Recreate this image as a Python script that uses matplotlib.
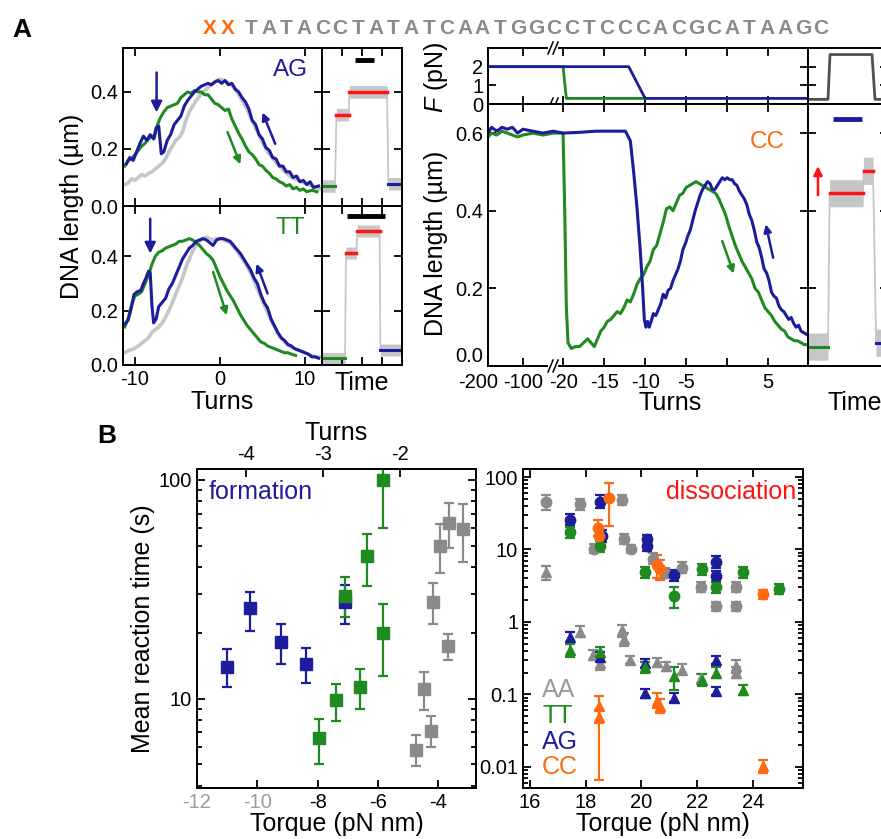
import numpy as np
import matplotlib
matplotlib.use("Agg")
import matplotlib.pyplot as plt
from matplotlib.ticker import FixedLocator, NullFormatter, LogLocator
from matplotlib.transforms import ScaledTranslation

plt.rcParams['font.family'] = 'Liberation Sans'
plt.rcParams['mathtext.fontset'] = 'custom'
plt.rcParams['mathtext.it'] = 'Liberation Sans:italic'
plt.rcParams['mathtext.rm'] = 'Liberation Sans'
plt.rcParams['axes.linewidth'] = 1.4
plt.rcParams['axes.unicode_minus'] = False

NAVY = '#1c1c9c'
GREEN = '#1f8a1f'
GRAY = '#8a8a8a'
LIGHT = '#c6c6c6'
ORANGE = '#ff6a10'
RED = '#ff1414'

# ---------------- panel A, left: AG and TT traces ----------------
ag_blue_t = [-11.0, -10.6, -10.2, -9.8, -9.4, -9.0, -8.6, -8.2, -7.8, -7.5, -7.2, -6.9, -6.6, -6.2,
             -5.8, -5.4, -5.0, -4.6, -4.2, -3.8, -3.4, -3.0, -2.6, -2.2, -1.8, -1.4, -1.0, -0.6,
             -0.2, 0.2, 0.6, 1.0, 1.4, 1.8, 2.2, 2.6, 3.0, 3.4, 3.8, 4.2, 4.6, 5.0, 5.4, 5.8, 6.2,
             6.6, 7.0, 7.4, 7.8, 8.2, 8.6, 9.0, 9.4, 9.8, 10.2, 10.6, 11.0, 11.6]
ag_blue_v = [0.148, 0.17, 0.16, 0.19, 0.22, 0.245, 0.23, 0.25, 0.235, 0.275, 0.28, 0.183, 0.19, 0.23,
             0.25, 0.285, 0.30, 0.315, 0.35, 0.37, 0.385, 0.40, 0.41, 0.42, 0.425, 0.43, 0.425, 0.435,
             0.44, 0.43, 0.44, 0.425, 0.43, 0.41, 0.40, 0.38, 0.365, 0.34, 0.30, 0.285, 0.25, 0.235,
             0.205, 0.195, 0.17, 0.165, 0.14, 0.14, 0.12, 0.12, 0.10, 0.105, 0.085, 0.09, 0.075,
             0.085, 0.065, 0.07]
ag_green_t = [-11.2, -10.8, -10.4, -10.0, -9.6, -9.2, -8.8, -8.4, -8.0, -7.7, -7.4, -7.0, -6.6, -6.2,
              -5.8, -5.4, -5.0, -4.6, -4.2, -3.8, -3.4, -3.0, -2.6, -2.2, -1.8, -1.4, -1.0, -0.6,
              -0.2, 0.2, 0.6, 1.0, 1.4, 1.8, 2.2, 2.6, 3.0, 3.4, 3.8, 4.2, 4.6, 5.0, 5.4, 5.8, 6.2,
              6.6, 7.0, 7.4, 7.8, 8.2, 8.6, 9.0, 9.4, 9.8, 10.2, 10.8, 11.4]
ag_green_v = [0.14, 0.16, 0.165, 0.18, 0.195, 0.21, 0.22, 0.235, 0.245, 0.24, 0.28, 0.31, 0.33, 0.345,
              0.35, 0.355, 0.36, 0.38, 0.39, 0.40, 0.395, 0.405, 0.40, 0.40, 0.39, 0.39, 0.375, 0.36,
              0.355, 0.345, 0.335, 0.34, 0.305, 0.28, 0.255, 0.235, 0.21, 0.19, 0.18, 0.165, 0.145,
              0.14, 0.125, 0.115, 0.10, 0.095, 0.085, 0.08, 0.07, 0.075, 0.06, 0.065, 0.055, 0.06,
              0.05, 0.055, 0.05]
ag_gray_t = [-11.2, -10.8, -10.4, -10.0, -9.6, -9.2, -8.8, -8.4, -8.0, -7.6, -7.2, -6.8, -6.4, -6.0,
             -5.6, -5.2, -4.8, -4.4, -4.0, -3.6, -3.2, -2.8, -2.4, -2.0, -1.6, -1.2, -0.8, -0.4, 0.0,
             0.4, 0.8, 1.2, 1.6, 2.0, 2.4, 2.8, 3.2, 3.6, 4.0, 4.4, 4.8, 5.2, 5.6, 6.0, 6.4, 6.8,
             7.2, 7.6, 8.0, 8.4, 8.8, 9.2, 9.6, 10.0, 10.4, 10.8, 11.2, 11.8]
ag_gray_v = [0.075, 0.08, 0.095, 0.09, 0.10, 0.11, 0.105, 0.115, 0.12, 0.13, 0.14, 0.15, 0.165, 0.19,
             0.21, 0.23, 0.24, 0.26, 0.30, 0.33, 0.35, 0.37, 0.385, 0.40, 0.41, 0.42, 0.43, 0.44,
             0.445, 0.44, 0.435, 0.43, 0.415, 0.40, 0.38, 0.36, 0.34, 0.31, 0.285, 0.26, 0.235,
             0.21, 0.19, 0.175, 0.16, 0.145, 0.135, 0.12, 0.11, 0.10, 0.095, 0.09, 0.085, 0.08,
             0.075, 0.07, 0.065, 0.06]

tt_blue_t = [-11.2, -10.8, -10.5, -10.1, -9.7, -9.3, -9.0, -8.7, -8.4, -8.2, -8.0, -7.8, -7.5, -7.2,
             -6.8, -6.4, -6.0, -5.6, -5.2, -4.8, -4.4, -4.0, -3.6, -3.2, -2.8, -2.4, -2.0, -1.6,
             -1.2, -0.8, -0.4, 0.0, 0.4, 0.8, 1.2, 1.6, 2.0, 2.4, 2.8, 3.2, 3.6, 4.0, 4.4, 4.8, 5.2,
             5.6, 6.0, 6.4, 6.8, 7.2, 7.6, 8.0, 8.4, 8.8, 9.2, 9.6, 10.0, 10.4, 10.8, 11.2, 11.6]
tt_blue_v = [0.15, 0.165, 0.20, 0.26, 0.27, 0.275, 0.30, 0.32, 0.345, 0.34, 0.22, 0.155, 0.17, 0.215,
             0.23, 0.245, 0.28, 0.30, 0.33, 0.36, 0.39, 0.41, 0.43, 0.44, 0.455, 0.46, 0.465, 0.46,
             0.45, 0.44, 0.46, 0.465, 0.465, 0.46, 0.455, 0.44, 0.425, 0.41, 0.39, 0.37, 0.35, 0.32,
             0.30, 0.26, 0.23, 0.21, 0.17, 0.145, 0.12, 0.10, 0.09, 0.075, 0.07, 0.06, 0.055, 0.05,
             0.045, 0.04, 0.03, 0.03, 0.025]
tt_green_t = [-11.2, -10.8, -10.4, -10.0, -9.6, -9.2, -8.8, -8.4, -8.0, -7.6, -7.2, -6.8, -6.4, -6.0,
              -5.6, -5.2, -4.8, -4.4, -4.0, -3.6, -3.2, -2.8, -2.4, -2.0, -1.6, -1.2, -0.8, -0.4,
              0.0, 0.4, 0.8, 1.2, 1.6, 2.0, 2.4, 2.8, 3.2, 3.6, 4.0, 4.4, 4.8, 5.2, 5.6, 6.0, 6.4,
              6.8, 7.2, 7.6, 8.0, 8.4, 8.9]
tt_green_v = [0.14, 0.17, 0.22, 0.255, 0.26, 0.27, 0.30, 0.33, 0.37, 0.40, 0.415, 0.42, 0.43, 0.435,
              0.44, 0.445, 0.455, 0.455, 0.46, 0.465, 0.46, 0.45, 0.44, 0.425, 0.41, 0.40, 0.385,
              0.355, 0.325, 0.30, 0.275, 0.255, 0.235, 0.21, 0.185, 0.165, 0.145, 0.13, 0.115, 0.10,
              0.085, 0.08, 0.07, 0.065, 0.06, 0.055, 0.05, 0.045, 0.045, 0.04, 0.035]
tt_gray_t = [-11.8, -11.2, -10.6, -10.1, -9.6, -9.2, -8.8, -8.4, -8.0, -7.6, -7.2, -6.8, -6.4, -6.0,
             -5.6, -5.2, -4.8, -4.4, -4.0, -3.6, -3.2, -2.8, -2.4, -2.0, -1.6, -1.2, -0.8, -0.4, 0.0,
             0.4, 0.8, 1.2, 1.6, 2.0, 2.4, 2.8, 3.2, 3.6, 4.0, 4.4, 4.8, 5.2, 5.6, 6.0, 6.4, 6.8,
             7.2, 7.6, 8.0, 8.4, 8.8, 9.2, 9.6, 10.0, 10.4, 10.8, 11.2, 11.8]
tt_gray_v = [0.04, 0.045, 0.055, 0.06, 0.07, 0.08, 0.09, 0.10, 0.12, 0.13, 0.14, 0.155, 0.175, 0.20,
             0.23, 0.26, 0.29, 0.32, 0.36, 0.39, 0.42, 0.44, 0.455, 0.465, 0.47, 0.465, 0.46, 0.465,
             0.465, 0.46, 0.455, 0.45, 0.435, 0.42, 0.40, 0.385, 0.36, 0.34, 0.31, 0.28, 0.25, 0.22,
             0.195, 0.165, 0.14, 0.115, 0.10, 0.085, 0.075, 0.065, 0.06, 0.055, 0.05, 0.045, 0.04,
             0.035, 0.03, 0.03]

# time traces: green start, red plateau(s), blue end
ag_time_t = [0.0, 0.65, 0.72, 1.33, 1.37, 3.25, 3.32, 4.0]
ag_time_v = [0.07, 0.07, 0.32, 0.32, 0.40, 0.40, 0.078, 0.078]
ag_bar_t = [1.63, 2.58]
ag_bar_v = 0.512
tt_time_t = [0.0, 1.15, 1.2, 1.72, 1.76, 2.88, 2.92, 4.0]
tt_time_v = [0.024, 0.024, 0.412, 0.412, 0.493, 0.493, 0.055, 0.055]
tt_bar_t = [1.25, 3.17]
tt_bar_v = 0.548

# ---------------- panel A, right: CC trace with broken turns axis ----------------
cc_blue_t = [-200, -190, -175, -160, -145, -130, -115, -100, -80, -60, -40, -20, -18, -16, -14, -12.4,
             -11.8, -11.4, -11.0, -10.6, -10.3, -10.1, -9.9, -9.7, -9.5, -9.2, -9.0, -8.7, -8.4, -8.1,
             -7.8, -7.5, -7.2, -6.9, -6.6, -6.3, -6.0, -5.7, -5.4, -5.1, -4.8, -4.5, -4.2, -3.9, -3.6,
             -3.3, -3.0, -2.7, -2.4, -2.1, -1.8, -1.5, -1.2, -0.9, -0.6, -0.3, 0.0, 0.3, 0.6, 0.9,
             1.2, 1.5, 1.8, 2.1, 2.4, 2.7, 3.0, 3.3, 3.6, 3.9, 4.2, 4.5, 4.8, 5.1, 5.4, 5.7, 6.0,
             6.3, 6.6, 6.9, 7.2, 7.5, 7.8, 8.1, 8.4, 8.7, 9.0, 9.4, 9.8]
cc_blue_v = [0.60, 0.615, 0.605, 0.615, 0.61, 0.615, 0.60, 0.61, 0.605, 0.60, 0.605, 0.60, 0.602, 0.605,
             0.605, 0.605, 0.58, 0.50, 0.41, 0.30, 0.20, 0.12, 0.10, 0.115, 0.10, 0.12, 0.135, 0.13,
             0.145, 0.16, 0.185, 0.175, 0.195, 0.20, 0.22, 0.235, 0.25, 0.27, 0.30, 0.315, 0.335,
             0.35, 0.375, 0.40, 0.42, 0.44, 0.455, 0.465, 0.475, 0.47, 0.455, 0.455, 0.465, 0.475,
             0.485, 0.48, 0.485, 0.48, 0.48, 0.47, 0.465, 0.45, 0.44, 0.43, 0.415, 0.39, 0.375, 0.35,
             0.32, 0.305, 0.28, 0.25, 0.24, 0.22, 0.19, 0.18, 0.175, 0.155, 0.145, 0.14, 0.13, 0.12,
             0.125, 0.11, 0.10, 0.105, 0.09, 0.085, 0.08]
cc_green_t = [-200, -190, -175, -160, -145, -130, -115, -100, -80, -60, -40, -20, -19.8, -19.6, -19.4,
              -19.0, -18.5, -18.0, -17.5, -17.0, -16.6, -16.2, -15.8, -15.4, -15.0, -14.6, -14.2,
              -13.8, -13.4, -13.0, -12.6, -12.2, -11.8, -11.4, -11.0, -10.6, -10.2, -9.8, -9.4, -9.0,
              -8.6, -8.2, -7.8, -7.4, -7.0, -6.6, -6.2, -5.8, -5.4, -5.0, -4.6, -4.2, -3.8, -3.4,
              -3.0, -2.6, -2.2, -1.8, -1.4, -1.0, -0.6, -0.2, 0.2, 0.6, 1.0, 1.4, 1.8, 2.2, 2.6, 3.0,
              3.4, 3.8, 4.2, 4.6, 5.0, 5.4, 5.8, 6.2, 6.6, 7.0, 7.4, 7.8, 8.2, 8.6, 9.0, 9.4, 9.8]
cc_green_v = [0.59, 0.60, 0.595, 0.605, 0.60, 0.595, 0.59, 0.595, 0.60, 0.595, 0.60, 0.60, 0.40, 0.15,
              0.06, 0.045, 0.05, 0.05, 0.06, 0.07, 0.06, 0.05, 0.07, 0.09, 0.10, 0.115, 0.12, 0.13,
              0.14, 0.135, 0.15, 0.17, 0.165, 0.185, 0.21, 0.225, 0.235, 0.255, 0.27, 0.30, 0.31,
              0.34, 0.37, 0.405, 0.41, 0.40, 0.42, 0.44, 0.445, 0.46, 0.465, 0.47, 0.475, 0.47,
              0.465, 0.46, 0.455, 0.45, 0.445, 0.43, 0.41, 0.39, 0.36, 0.335, 0.31, 0.29, 0.27,
              0.255, 0.24, 0.225, 0.20, 0.19, 0.17, 0.15, 0.14, 0.13, 0.115, 0.105, 0.095, 0.09,
              0.075, 0.07, 0.065, 0.065, 0.06, 0.055, 0.055]
force_blue_t = [-200, -12.0, -10.0, 9.8]
force_blue_f = [2.0, 2.0, 0.3, 0.3]
force_green_t = [-200, -20, -19.6, -10.0]
force_green_f = [2.0, 2.0, 0.3, 0.3]
force_time_t = [0.0, 1.0, 1.1, 3.2, 3.35, 4.0]
force_time_f = [0.25, 0.25, 2.65, 2.65, 0.25, 0.25]
cc_time_t = [0.0, 1.0, 1.08, 2.75, 2.78, 3.25, 3.4, 4.0]
cc_time_v = [0.05, 0.05, 0.445, 0.445, 0.503, 0.503, 0.06, 0.06]
cc_bar_t = [1.25, 2.7]
cc_bar_v = 0.637

# broken axis knots (turns -> plotting coordinate)
brk_t = [-1000, -200, -100, -20, 100]
brk_u = [-63.15, -29.15, -24.9, -20, 100]

# ---------------- panel B: formation ----------------
ag_form_x = [-11.0, -10.25, -9.2, -8.4, -7.1]
ag_form_y = [14.0, 25.8, 18.2, 14.4, 27.5]
ag_form_lo = [11.3, 20.4, 14.4, 11.8, 22.0]
ag_form_hi = [16.9, 30.8, 22.0, 17.1, 33.0]
tt_form_x = [-7.94, -7.38, -7.1, -6.6, -6.35, -5.83, -5.83]
tt_form_y = [6.6, 9.8, 29.5, 11.3, 45.0, 20.0, 100.0]
tt_form_lo = [5.0, 7.9, 23.5, 9.0, 32.8, 12.7, 60.0]
tt_form_hi = [8.1, 11.7, 36.0, 13.7, 56.6, 27.0, 150.0]
aa_form_x = [-4.74, -4.47, -4.24, -4.18, -3.95, -3.68, -3.65, -3.19]
aa_form_y = [5.8, 11.0, 7.1, 27.7, 50.0, 17.3, 63.6, 59.8]
aa_form_lo = [4.9, 8.9, 6.0, 21.8, 37.6, 15.0, 49.0, 42.3]
aa_form_hi = [6.8, 13.2, 8.3, 33.8, 63.0, 19.8, 78.5, 77.7]

# ---------------- panel B: dissociation (circles slow, triangles fast) ----------------
aa_circ_x = [16.58, 17.8, 19.32, 18.31, 19.38, 19.63, 20.4, 20.86, 21.46, 22.15, 22.69, 23.41, 23.41]
aa_circ_y = [45.2, 42.9, 48.7, 10.3, 14.1, 10.3, 7.5, 4.7, 5.6, 3.04, 1.64, 3.04, 1.64]
aa_circ_lo = [34.7, 35.0, 41.0, 8.8, 12.0, 9.0, 6.3, 4.0, 4.7, 2.6, 1.4, 2.6, 1.4]
aa_circ_hi = [55.9, 50.0, 56.0, 12.0, 16.5, 11.5, 8.8, 5.5, 6.8, 3.5, 1.9, 3.6, 1.9]
ag_circ_x = [17.44, 18.52, 18.58, 20.2, 20.2, 21.18, 22.69, 22.69]
ag_circ_y = [25.8, 45.0, 15.5, 13.9, 11.3, 4.4, 6.7, 4.3]
ag_circ_lo = [21.5, 37.0, 12.5, 11.5, 9.5, 3.7, 5.6, 3.6]
ag_circ_hi = [31.0, 56.0, 18.5, 16.0, 13.3, 5.2, 8.0, 5.1]
tt_circ_x = [17.44, 18.52, 20.14, 21.18, 22.17, 22.69, 23.65, 24.93]
tt_circ_y = [17.4, 11.1, 4.9, 2.26, 5.3, 3.04, 4.9, 2.82]
tt_circ_lo = [14.5, 9.2, 4.1, 1.55, 4.4, 2.5, 4.1, 2.4]
tt_circ_hi = [20.5, 13.2, 5.8, 3.05, 6.3, 3.7, 5.8, 3.3]
cc_circ_x = [18.84, 18.43, 18.48, 20.56, 20.68, 24.36]
cc_circ_y = [51.9, 19.8, 15.2, 6.05, 5.3, 2.41]
cc_circ_lo = [20.9, 15.5, 10.6, 4.0, 3.75, 2.05]
cc_circ_hi = [82.6, 25.8, 20.0, 8.3, 7.1, 2.8]

aa_tri_x = [16.58, 17.8, 18.28, 18.52, 19.30, 19.38, 19.6, 20.56, 20.88, 21.46, 22.15, 23.41, 23.41]
aa_tri_y = [4.9, 0.73, 0.35, 0.27, 0.77, 0.59, 0.296, 0.28, 0.245, 0.22, 0.166, 0.245, 0.2]
aa_tri_lo = [3.75, 0.62, 0.3, 0.22, 0.62, 0.47, 0.26, 0.24, 0.21, 0.19, 0.14, 0.2, 0.17]
aa_tri_hi = [5.9, 0.87, 0.41, 0.32, 0.9, 0.7, 0.34, 0.32, 0.28, 0.26, 0.19, 0.3, 0.235]
ag_tri_x = [17.44, 18.52, 20.14, 20.14, 21.18, 22.69, 22.69]
ag_tri_y = [0.62, 0.33, 0.27, 0.103, 0.090, 0.296, 0.112]
ag_tri_lo = [0.52, 0.29, 0.23, 0.09, 0.078, 0.26, 0.097]
ag_tri_hi = [0.73, 0.39, 0.31, 0.12, 0.104, 0.34, 0.128]
tt_tri_x = [17.44, 18.52, 20.14, 21.18, 22.17, 22.69, 23.65]
tt_tri_y = [0.41, 0.38, 0.24, 0.178, 0.157, 0.2, 0.114]
tt_tri_lo = [0.33, 0.32, 0.2, 0.115, 0.13, 0.17, 0.098]
tt_tri_hi = [0.5, 0.45, 0.28, 0.24, 0.19, 0.24, 0.135]
cc_tri_x = [18.46, 18.48, 20.56, 20.68, 24.36]
cc_tri_y = [0.069, 0.049, 0.081, 0.07, 0.0102]
cc_tri_lo = [0.0066, 0.04, 0.065, 0.055, 0.0081]
cc_tri_hi = [0.095, 0.06, 0.104, 0.085, 0.0123]

sequence = "TATACCTATATCAATGGCCTCCCACGCATAAGC"

# ================================================================
W, H = 881, 839
fig = plt.figure(figsize=(W / 100, H / 100), dpi=100)


def box(l, t, r, b):
    return fig.add_axes([l / W, 1 - b / H, (r - l) / W, (b - t) / H])


def style(ax, size=14.5, top=True):
    ax.tick_params(which='both', direction='in', top=top, right=True, labelsize=size, width=1.3)
    ax.tick_params(which='major', length=6)
    ax.tick_params(which='minor', length=3.5)


def time_panel(ax, t, v, half, ylim):
    t = np.array(t)
    v = np.array(v)
    ax.fill_between(t, v - half, v + half, color=LIGHT, lw=0)
    ax.plot(t, v, color=LIGHT, lw=1.2)
    ax.plot(t[0:2], v[0:2], color=GREEN, lw=2.2)
    ax.plot(t[2:4], v[2:4], color=RED, lw=2.5)
    ax.plot(t[4:6], v[4:6], color=RED, lw=2.5)
    ax.plot(t[6:8], v[6:8], color=NAVY, lw=2.2)
    ax.set_xlim(0, 4)
    ax.set_ylim(*ylim)
    ax.set_xticks([1, 2, 3])
    ax.set_yticks([0.2, 0.4] if ylim[1] < 0.6 else [0.2, 0.4, 0.6])
    ax.set_xticklabels([])
    ax.set_yticklabels([])
    style(ax)


# ---- A left ----
turn_panels = [
    (48, 206, (0, 0.554), ag_gray_t, ag_gray_v, ag_green_t, ag_green_v, ag_blue_t, ag_blue_v, 'AG', NAVY,
     ag_time_t, ag_time_v, ag_bar_t, ag_bar_v),
    (206, 365, (0, 0.585), tt_gray_t, tt_gray_v, tt_green_t, tt_green_v, tt_blue_t, tt_blue_v, 'TT', GREEN,
     tt_time_t, tt_time_v, tt_bar_t, tt_bar_v),
]
arrows_left = [
    [((-7.45, 0.468), (-7.45, 0.328), NAVY), ((6.5, 0.218), (5.0, 0.328), NAVY), ((0.9, 0.259), (2.4, 0.146), GREEN)],
    [((-8.2, 0.538), (-8.2, 0.41), NAVY), ((5.6, 0.263), (4.3, 0.373), NAVY), ((-0.8, 0.342), (0.8, 0.183), GREEN)],
]
for i, (top, bot, ylim, gt, gv, grt, grv, bt, bv, name, ncol, tt_, tv_, bar_t, bar_v) in enumerate(turn_panels):
    ax = box(123, top, 322, bot)
    ax.plot(gt, gv, color=LIGHT, lw=2.6)
    ax.plot(grt, grv, color=GREEN, lw=2.2)
    ax.plot(bt, bv, color=NAVY, lw=2.2)
    ax.set_xlim(-11.4, 12)
    ax.set_ylim(*ylim)
    ax.set_xticks([-10, 0, 10])
    ax.set_yticks([0.0, 0.2, 0.4])
    ax.set_yticklabels(['0.0', '0.2', '0.4'])
    style(ax)
    if i == 0:
        ax.set_xticklabels([])
    else:
        ax.set_xlabel('Turns', fontsize=18, labelpad=1)
    ax.text(0.84, 0.86 if i == 0 else 0.862, name, color=ncol, fontsize=17.5,
            transform=ax.transAxes, ha='center', va='center')
    for tail, head, col in arrows_left[i]:
        big = tail[0] == head[0]
        ax.annotate('', xy=head, xytext=tail,
                    arrowprops=dict(arrowstyle='-|>', color=col, lw=1.8,
                                    mutation_scale=16 if big else 11, shrinkA=0, shrinkB=0))
    axt = box(322, top, 402, bot)
    time_panel(axt, tt_, tv_, 0.022, ylim)
    axt.plot(bar_t, [bar_v, bar_v], color='black', lw=3.5, solid_capstyle='butt')
    if i == 1:
        axt.set_xlabel('Time', fontsize=18, labelpad=1)

fig.text(72 / W, 1 - 206 / H, 'DNA length (µm)', rotation=90, fontsize=18, ha='center', va='center')

# ---- A right ----
def fwd(t):
    return np.interp(t, brk_t, brk_u)


def inv(u):
    return np.interp(u, brk_u, brk_t)


def break_mark(ax, xf, yf):
    # white gap in the spine plus two slanted strokes, in axes fraction
    bb = ax.get_window_extent()
    sx = 1.0 / bb.width
    sy = 1.0 / bb.height
    ax.plot([xf - 5 * sx, xf + 5 * sx], [yf, yf], color='white', lw=3, transform=ax.transAxes,
            clip_on=False, zorder=5, solid_capstyle='butt')
    for dx in (-2.5, 2.5):
        ax.plot([xf + (dx - 2.5) * sx, xf + (dx + 2.5) * sx], [yf - 6 * sy, yf + 6 * sy], color='black',
                lw=1.1, transform=ax.transAxes, clip_on=False, zorder=6)


axf = box(488, 48, 808, 104)
axc = box(488, 104, 808, 366)
for a in (axf, axc):
    a.set_xscale('function', functions=(fwd, inv))
    a.set_xlim(-200, 9.85)
    a.set_xticks([-200, -100, -20, -15, -10, -5, 0, 5])
    a.xaxis.set_minor_locator(FixedLocator([]))
    style(a)
axf.plot(force_green_t, force_green_f, color=GREEN, lw=2)
axf.plot(force_blue_t, force_blue_f, color=NAVY, lw=2)
axf.set_ylim(0, 3.0)
axf.set_yticks([0, 1, 2])
axf.set_xticklabels([])

axc.plot(cc_green_t, cc_green_v, color=GREEN, lw=2.2)
axc.plot(cc_blue_t, cc_blue_v, color=NAVY, lw=2.2)
axc.set_ylim(0, 0.675)
axc.set_yticks([0.0, 0.2, 0.4, 0.6])
axc.set_yticklabels(['0.0', '0.2', '0.4', '0.6'])
axc.get_yticklabels()[0].set_va('bottom')
axc.set_xticklabels(['-200', '-100', '-20', '-15', '-10', '-5', '', '5'])
axc.tick_params(axis='x', pad=5)
first = axc.get_xticklabels()[0]
first.set_ha('right')
first.set_transform(first.get_transform() + ScaledTranslation(7.5 / 72, 0, fig.dpi_scale_trans))
axc.set_xlabel('Turns', fontsize=18, labelpad=1)
axc.xaxis.set_label_coords(0.57, -0.095)
axc.text(0.872, 0.855, 'CC', color=ORANGE, fontsize=17.5, transform=axc.transAxes, ha='center', va='center')
for tail, head, col in [((5.6, 0.279), (4.7, 0.365), NAVY), ((-0.6, 0.322), (0.8, 0.238), GREEN)]:
    axc.annotate('', xy=head, xytext=tail,
                 arrowprops=dict(arrowstyle='-|>', color=col, lw=1.8, mutation_scale=11, shrinkA=0, shrinkB=0))
brk_frac = (fwd(-40) - fwd(-200)) / (fwd(9.85) - fwd(-200))
break_mark(axf, brk_frac, 1.0)
break_mark(axf, brk_frac, 0.0)
break_mark(axc, brk_frac, 0.0)

axft = box(808, 48, 888, 104)
axft.plot(force_time_t, force_time_f, color='#505050', lw=2)
axft.set_xlim(0, 4)
axft.set_ylim(0, 3.0)
axft.set_xticks([])
axft.set_yticks([1, 2])
axft.set_yticklabels([])
style(axft)

axct = box(808, 104, 888, 366)
time_panel(axct, cc_time_t, cc_time_v, 0.035, (0, 0.675))
axct.plot(cc_bar_t, [cc_bar_v, cc_bar_v], color=NAVY, lw=3.5, solid_capstyle='butt')
axct.set_xticks([])
axct.set_xlabel('Time', fontsize=18, labelpad=12)
axct.xaxis.set_label_coords(0.59, -0.095)
axct.annotate('', xy=(0.5, 0.515), xytext=(0.5, 0.44),
              arrowprops=dict(arrowstyle='-|>', color=RED, lw=1.8, mutation_scale=13, shrinkA=0, shrinkB=0))

fig.text(436 / W, 1 - 243 / H, 'DNA length (µm)', rotation=90, fontsize=18, ha='center', va='center')
fig.text(436 / W, 1 - 77 / H, '$F$ (pN)', rotation=90, fontsize=18, ha='center', va='center')

# ---- sequence header ----
for k, ch in enumerate('XX'):
    fig.text((210 + 17.5 * k) / W, 1 - 28 / H, ch, color=ORANGE, fontsize=15, weight='bold', ha='center', va='center')
for k, ch in enumerate(sequence):
    fig.text((251 + 17.8 * k) / W, 1 - 28 / H, ch, color=GRAY, fontsize=15, weight='bold', ha='center', va='center')
fig.text(12 / W, 1 - 30 / H, 'A', fontsize=19, weight='bold', va='center')
fig.text(97 / W, 1 - 436 / H, 'B', fontsize=19, weight='bold', va='center')

# ---- B left: formation ----
def errs(ax, x, y, lo, hi, marker, col, ms):
    y = np.array(y)
    ax.errorbar(x, y, yerr=[y - np.array(lo), np.array(hi) - y], fmt=marker, color=col, ms=ms,
                elinewidth=1.6, capsize=3.5, capthick=1.6, mec=col, clip_on=True)


axb = box(197, 469, 476, 788)
axb.set_yscale('log')
errs(axb, ag_form_x, ag_form_y, ag_form_lo, ag_form_hi, 's', NAVY, 8)
errs(axb, tt_form_x, tt_form_y, tt_form_lo, tt_form_hi, 's', GREEN, 8)
errs(axb, aa_form_x, aa_form_y, aa_form_lo, aa_form_hi, 's', GRAY, 8)
axb.set_xlim(-12, -2.75)
axb.set_ylim(3.9, 112)
axb.set_xticks([-12, -10, -8, -6, -4])
axb.set_yticks([10, 100])
axb.set_yticklabels(['10', '100'])
axb.yaxis.set_minor_formatter(NullFormatter())
style(axb, top=False)
for lab in axb.get_xticklabels()[:2]:
    lab.set_color('#9a9a9a')
axb.set_xlabel('Torque (pN nm)', fontsize=18, labelpad=0)
axb.set_ylabel('Mean reaction time (s)', fontsize=18)
axb.yaxis.set_label_coords(-0.15, 0.5)
axb.text(0.043, 0.928, 'formation', color=NAVY, fontsize=18, transform=axb.transAxes, va='center')
sec = axb.secondary_xaxis('top', functions=(lambda q: (q + 0.2) / 2.54, lambda n: 2.54 * n - 0.2))
sec.set_xticks([-4, -3, -2])
sec.tick_params(direction='in', length=6, width=1.3, labelsize=14.5)
sec.set_xlabel('Turns', fontsize=18, labelpad=4)

# ---- B right: dissociation ----
axd = box(523, 469, 803, 788)
axd.set_yscale('log')
errs(axd, aa_circ_x, aa_circ_y, aa_circ_lo, aa_circ_hi, 'o', GRAY, 7.5)
errs(axd, aa_tri_x, aa_tri_y, aa_tri_lo, aa_tri_hi, '^', GRAY, 7.5)
errs(axd, ag_circ_x, ag_circ_y, ag_circ_lo, ag_circ_hi, 'o', NAVY, 7.5)
errs(axd, ag_tri_x, ag_tri_y, ag_tri_lo, ag_tri_hi, '^', NAVY, 7.5)
errs(axd, tt_circ_x, tt_circ_y, tt_circ_lo, tt_circ_hi, 'o', GREEN, 7.5)
errs(axd, tt_tri_x, tt_tri_y, tt_tri_lo, tt_tri_hi, '^', GREEN, 7.5)
errs(axd, cc_circ_x, cc_circ_y, cc_circ_lo, cc_circ_hi, 'o', ORANGE, 7.5)
errs(axd, cc_tri_x, cc_tri_y, cc_tri_lo, cc_tri_hi, '^', ORANGE, 7.5)
axd.set_xlim(15.75, 25.8)
axd.set_ylim(0.0051, 129)
axd.set_xticks([16, 18, 20, 22, 24])
axd.set_yticks([0.01, 0.1, 1, 10, 100])
axd.set_yticklabels(['0.01', '0.1', '1', '10', '100'])
axd.yaxis.set_minor_locator(LogLocator(base=10, subs=np.arange(2, 10)))
axd.yaxis.set_minor_formatter(NullFormatter())
style(axd)
axd.set_xlabel('Torque (pN nm)', fontsize=18, labelpad=0)
axd.text(0.975, 0.928, 'dissociation', color=RED, fontsize=18, transform=axd.transAxes, ha='right', va='center')
for yy, name, col in [(0.307, 'AA', '#999999'), (0.226, 'TT', GREEN), (0.144, 'AG', NAVY), (0.066, 'CC', ORANGE)]:
    axd.text(0.068, yy, name, color=col, fontsize=18, transform=axd.transAxes, va='center')

fig.savefig('out.png', dpi=100)
